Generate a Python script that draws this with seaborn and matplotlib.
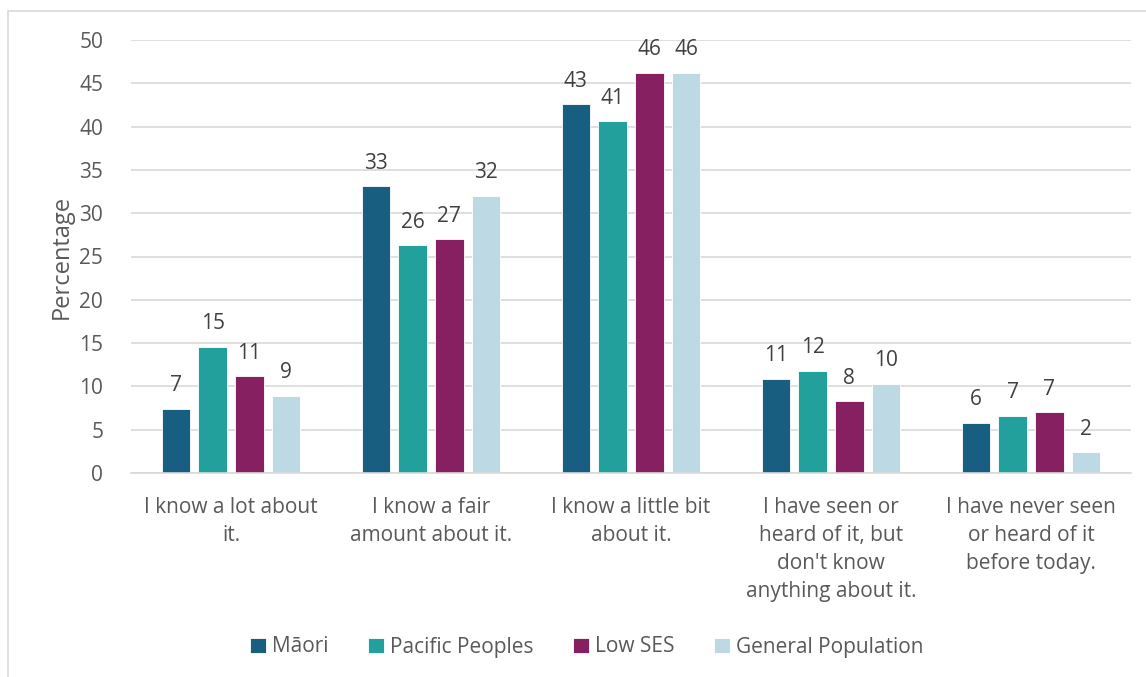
import matplotlib
matplotlib.use("Agg")
import matplotlib.pyplot as plt
import seaborn as sns
import pandas as pd
from matplotlib.patches import Rectangle

categories = ["I know a lot about\nit.", "I know a fair\namount about it.", "I know a little bit\nabout it.",
              "I have seen or\nheard of it, but\ndon't know\nanything about it.",
              "I have never seen\nor heard of it\nbefore today."]
series = ["Māori", "Pacific Peoples", "Low SES", "General Population"]
maori = [7.4, 33.1, 42.6, 10.9, 5.8]
pacific = [14.6, 26.3, 40.6, 11.8, 6.6]
low_ses = [11.2, 27.0, 46.2, 8.3, 7.0]
general = [8.9, 32.0, 46.2, 10.3, 2.4]
colors = ["#175E81", "#22A09B", "#862060", "#BDD9E3"]

rows = []
for s, vals in zip(series, [maori, pacific, low_ses, general]):
    for c, v in zip(categories, vals):
        rows.append({"Category": c, "Series": s, "Value": v})
df = pd.DataFrame(rows)

sns.set_theme(style="white")
plt.rcParams["font.family"] = ["Open Sans", "DejaVu Sans"]
txt = "#595959"
fs = 15

fig = plt.figure(figsize=(11.46, 6.77), dpi=100)
ax = fig.add_axes([131/1146, 1-473/677, 1000/1146, 433/677])
sns.barplot(data=df, x="Category", y="Value", hue="Series", palette=colors,
            width=0.735, gap=0.22, ax=ax, legend=True, errorbar=None, saturation=1,
            edgecolor="white", linewidth=0.6)

ax.set_ylim(0, 50)
ax.set_yticks(range(0, 51, 5))
ax.yaxis.grid(True, color="#D9D9D9", linewidth=1.2)
ax.set_axisbelow(True)
for sp in ["top", "right", "left"]:
    ax.spines[sp].set_visible(False)
ax.spines["bottom"].set_color("#D9D9D9")
ax.spines["bottom"].set_linewidth(1.2)
ax.tick_params(axis="both", length=0, labelsize=fs, labelcolor=txt)
ax.tick_params(axis="x", pad=17)
ax.tick_params(axis="y", pad=20)
for lbl in ax.get_xticklabels():
    lbl.set_linespacing(1.45)
ax.set_xlabel("")
ax.set_ylabel("Percentage", fontsize=17, color=txt, labelpad=4)

for cont in ax.containers:
    ax.bar_label(cont, labels=[f"{v:.0f}" for v in cont.datavalues], padding=9,
                 fontsize=fs, color="#404040")

handles, labels = ax.get_legend_handles_labels()
ax.legend(handles, labels, loc="center", bbox_to_anchor=(0.456, (1 - 647/677 - (1-473/677)) / (433/677)),
          ncol=4, frameon=False, fontsize=fs, labelcolor=txt, handlelength=0.75, handleheight=0.75,
          handletextpad=0.3, columnspacing=1.9)

fig.patches.append(Rectangle((8/1146, -0.01), 1.0, 1 - 11/677 + 0.01, transform=fig.transFigure,
                             fill=False, edgecolor="#D9D9D9", linewidth=1.2))

fig.savefig("out.png", dpi=100)
